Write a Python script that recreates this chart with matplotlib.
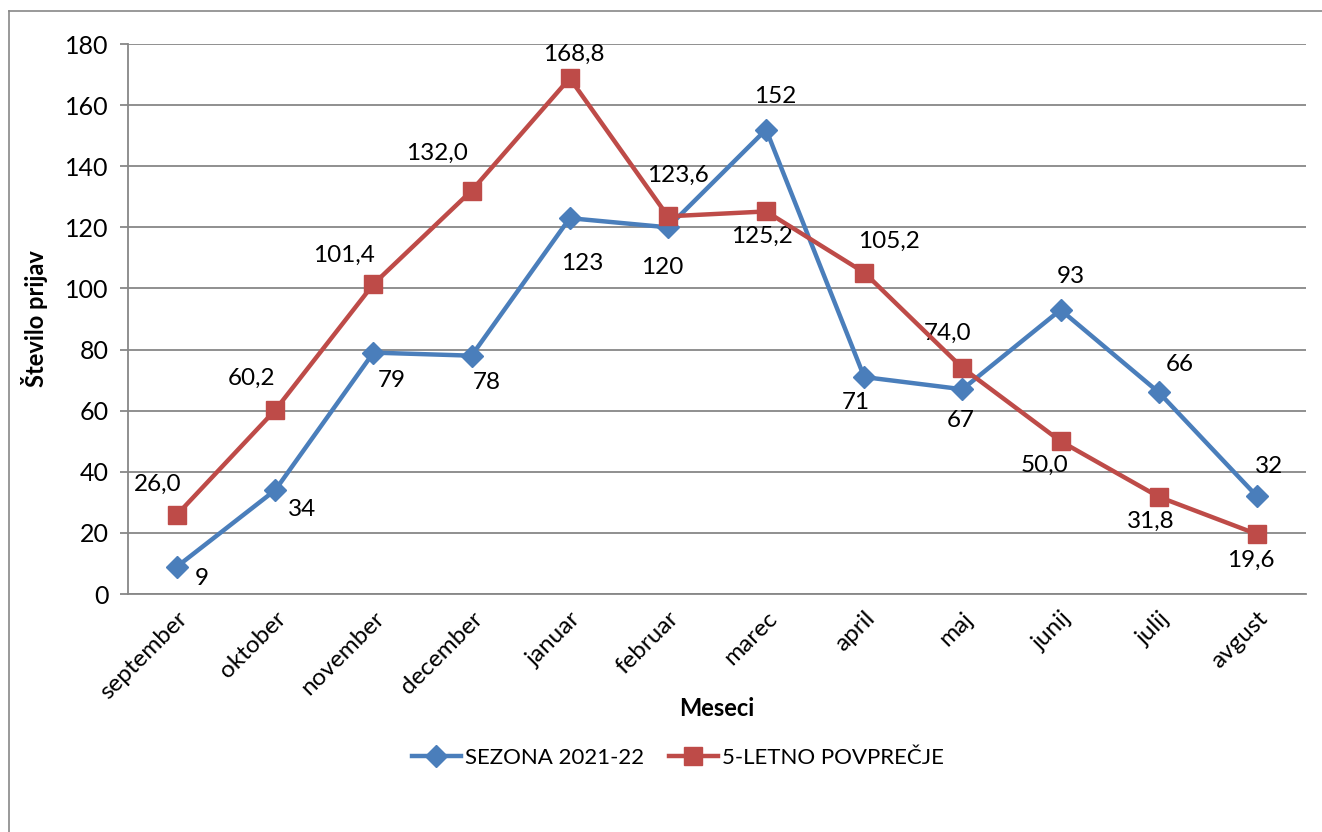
import matplotlib
matplotlib.use("Agg")
import matplotlib.pyplot as plt
from matplotlib.lines import Line2D

plt.rcParams['font.family'] = ['Lato', 'DejaVu Sans']

months = ['september', 'oktober', 'november', 'december', 'januar', 'februar',
          'marec', 'april', 'maj', 'junij', 'julij', 'avgust']
season = [9, 34, 79, 78, 123, 120, 152, 71, 67, 93, 66, 32]
average = [26.0, 60.2, 101.4, 132.0, 168.8, 123.6, 125.2, 105.2, 74.0, 50.0, 31.8, 19.6]

# label offsets in pixels (dx, dy)
season_off = [(25, -12), (27, -19), (18, -28), (15, -27), (12, -45), (-6, -40),
              (9, 33), (-8, -25), (-2, -31), (10, 33), (21, 28), (12, 30)]
average_off = [(-19, 30), (-24, 32), (-29, 29), (-35, 37), (4, 24), (10, 41),
               (-4, -25), (25, 31), (-15, 35), (-16, -24), (-8, -25), (-6, -26)]

blue = '#4A7EBB'
red = '#BE4B48'
grid = '#878787'

fig = plt.figure(figsize=(13.22, 8.32), dpi=100)
ax = fig.add_axes([128 / 1322, 1 - 594 / 832, (1306 - 128) / 1322, (594 - 44) / 832])

x = list(range(len(months)))
ax.plot(x, season, color=blue, lw=3.2, marker='D', ms=11, mfc=blue, mec=blue,
        label='SEZONA 2021-22', zorder=3)
ax.plot(x, average, color=red, lw=3.2, marker='s', ms=13, mfc=red, mec=red,
        label='5-LETNO POVPREČJE', zorder=4)

for xi, v, (dx, dy) in zip(x, season, season_off):
    ax.annotate(str(v), (xi, v), xytext=(dx * 0.72, dy * 0.72), textcoords='offset points',
                ha='center', va='center', fontsize=17.5, color='black')
for xi, v, (dx, dy) in zip(x, average, average_off):
    ax.annotate(f'{v:.1f}'.replace('.', ','), (xi, v), xytext=(dx * 0.72, dy * 0.72),
                textcoords='offset points', ha='center', va='center', fontsize=17.5, color='black')

ax.set_xlim(-0.5, len(months) - 0.5)
ax.set_ylim(0, 180)
ax.set_yticks(range(0, 181, 20))
ax.set_xticks(x)
ax.set_xticklabels(months, rotation=45, ha='right', rotation_mode='anchor', fontsize=17.5)
ax.tick_params(axis='x', length=0, pad=10)
ax.tick_params(axis='y', length=6, width=1.3, color=grid, labelsize=18, pad=8)
ax.grid(axis='y', color=grid, lw=1.3)
ax.set_axisbelow(True)
for s in ['top', 'right']:
    ax.spines[s].set_visible(False)
ax.spines['left'].set_color(grid)
ax.spines['left'].set_linewidth(1.3)
ax.spines['bottom'].set_color(grid)
ax.spines['bottom'].set_linewidth(1.3)

ax.set_xlabel('Meseci', fontsize=17, fontweight='bold', labelpad=-4)
ax.set_ylabel('Število prijav', fontsize=17, fontweight='bold', labelpad=12)

ax.legend(loc='center', bbox_to_anchor=(678 / 1322, 1 - 758 / 832),
          bbox_transform=fig.transFigure, ncol=2, frameon=False, fontsize=16,
          handlelength=2.2, columnspacing=1.1, handletextpad=0.2)

# outer chart border (only left and top edges are visible in the crop)
fig.add_artist(Line2D([9 / 1322, 9 / 1322], [0, 1 - 11 / 832], color=grid, lw=1.2,
                      transform=fig.transFigure))
fig.add_artist(Line2D([9 / 1322, 1], [1 - 11 / 832, 1 - 11 / 832], color=grid, lw=1.2,
                      transform=fig.transFigure))

fig.savefig('out.png', dpi=100)
